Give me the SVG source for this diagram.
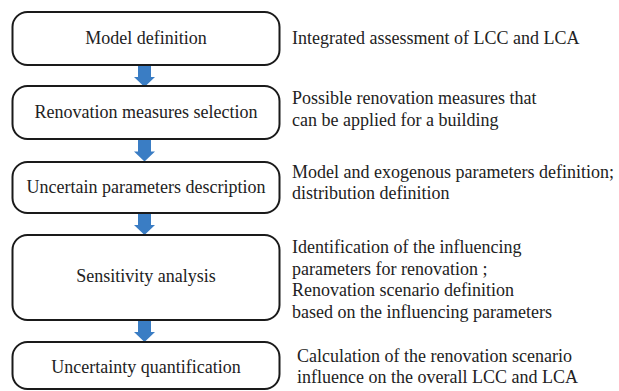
<svg xmlns="http://www.w3.org/2000/svg" width="619" height="391" viewBox="0 0 619 391">
<style>
.box{fill:#fff;stroke:#1a1a1a;stroke-width:2}
.t{font-family:'Liberation Serif','Times New Roman',serif;font-size:18px;fill:#222}
.c{text-anchor:middle}
.arr{fill:#3A7DC4}
</style>
<defs>
<path id="arrow" class="arr" d="M-7,0 H6 V12 H10 L-0.5,22 L-11,12 H-7 Z"/>
</defs>
<rect x="0" y="0" width="619" height="391" fill="#fff"/>
<g id="connectors">
<use href="#arrow" x="145" y="65"/>
<use href="#arrow" x="145" y="139.5"/>
<use href="#arrow" x="145" y="213"/>
<use href="#arrow" x="145" y="320"/>
</g>
<g id="n1">
<rect class="box" x="12.5" y="12" width="267" height="53" rx="15"/>
<text class="t c" x="146" y="44">Model definition</text>
</g>
<g id="n2">
<rect class="box" x="12.5" y="86" width="267" height="53" rx="15"/>
<text class="t c" x="146" y="118">Renovation measures selection</text>
</g>
<g id="n3">
<rect class="box" x="12.5" y="162" width="267" height="51" rx="15"/>
<text class="t c" x="146" y="193">Uncertain parameters description</text>
</g>
<g id="n4">
<rect class="box" x="12.5" y="235" width="267" height="85" rx="15"/>
<text class="t c" x="146" y="282">Sensitivity analysis</text>
</g>
<g id="n5">
<rect class="box" x="12.5" y="342" width="267" height="47" rx="15"/>
<text class="t c" x="146" y="373">Uncertainty quantification</text>
</g>
<g id="notes">
<text class="t" x="292" y="44">Integrated assessment of LCC and LCA</text>
<text class="t" x="292" y="104">Possible renovation measures that</text>
<text class="t" x="292" y="126">can be applied for a building</text>
<text class="t" x="292" y="178">Model and exogenous parameters definition;</text>
<text class="t" x="292" y="199">distribution definition</text>
<text class="t" x="292" y="253">Identification of the influencing</text>
<text class="t" x="292" y="275">parameters for renovation ;</text>
<text class="t" x="292" y="296">Renovation scenario definition</text>
<text class="t" x="292" y="318">based on the influencing parameters</text>
<text class="t" x="297" y="362">Calculation of the renovation scenario</text>
<text class="t" x="297" y="383">influence on the overall LCC and LCA</text>
</g>
</svg>
